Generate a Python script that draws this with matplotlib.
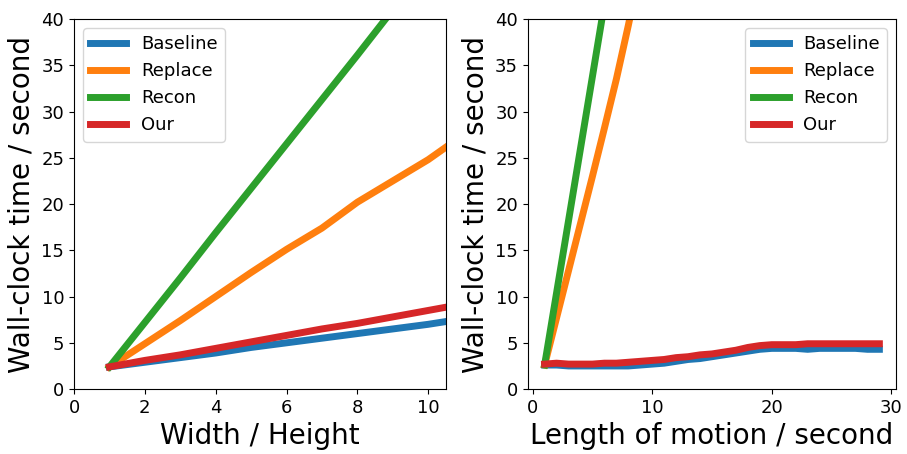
import matplotlib
matplotlib.use("Agg")
import matplotlib.pyplot as plt

# left panel: time vs. resolution ratio
ratio_x = [1, 2, 3, 4, 5, 6, 7, 8, 9, 10, 11]
ratio_baseline = [2.4, 2.9, 3.4, 3.9, 4.5, 5.0, 5.5, 6.0, 6.5, 7.0, 7.6]
ratio_replace = [2.4, 4.9, 7.4, 10.0, 12.6, 15.1, 17.4, 20.2, 22.5, 24.8, 27.5]
ratio_recon = [2.4, 7.2, 12.0, 16.9, 21.7, 26.5, 31.3, 36.1, 41.0, 45.8, 50.6]
ratio_our = [2.4, 3.1, 3.7, 4.4, 5.1, 5.8, 6.5, 7.1, 7.8, 8.5, 9.2]

# right panel: time vs. motion length
motion_x = list(range(1, 30))
motion_baseline = [2.6, 2.6, 2.5, 2.5, 2.5, 2.5, 2.5, 2.5, 2.6, 2.7, 2.8, 3.0, 3.2, 3.3, 3.5, 3.7, 3.9, 4.1, 4.3, 4.4, 4.4, 4.4, 4.3, 4.4, 4.4, 4.4, 4.4, 4.3, 4.3]
motion_our = [2.7, 2.8, 2.7, 2.7, 2.7, 2.8, 2.8, 2.9, 3.0, 3.1, 3.2, 3.4, 3.5, 3.7, 3.8, 4.0, 4.2, 4.5, 4.7, 4.8, 4.8, 4.8, 4.9, 4.9, 4.9, 4.9, 4.9, 4.9, 4.9]
replace_x = [1, 2, 3, 4, 5, 6, 7, 8, 9]
motion_replace = [2.6, 7.7, 12.8, 17.9, 23.0, 28.2, 33.5, 39.3, 45.5]
recon_x = [1, 2, 3, 4, 5, 6, 7]
motion_recon = [2.6, 10.4, 18.2, 26.0, 33.8, 41.6, 49.4]

labels = ["Baseline", "Replace", "Recon", "Our"]
lw = 5

fig = plt.figure(figsize=(9.07, 4.54), dpi=100)
ax1 = fig.add_axes([0.0816, 0.143, 0.410, 0.815])
ax2 = fig.add_axes([0.582, 0.143, 0.406, 0.815])

ax1.plot(ratio_x, ratio_baseline, lw=lw, label=labels[0])
ax1.plot(ratio_x, ratio_replace, lw=lw, label=labels[1])
ax1.plot(ratio_x, ratio_recon, lw=lw, label=labels[2])
ax1.plot(ratio_x, ratio_our, lw=lw, label=labels[3])
ax1.set_xlim(0, 10.5)
ax1.set_ylim(0, 40)
ax1.set_xlabel("Width / Height", fontsize=20)
ax1.set_ylabel("Wall-clock time / second", fontsize=20)
ax1.legend(loc="upper left", fontsize=13)

ax2.plot(motion_x, motion_baseline, lw=lw, label=labels[0])
ax2.plot(replace_x, motion_replace, lw=lw, label=labels[1])
ax2.plot(recon_x, motion_recon, lw=lw, label=labels[2])
ax2.plot(motion_x, motion_our, lw=lw, label=labels[3])
ax2.set_xlim(-0.4, 30.4)
ax2.set_ylim(0, 40)
ax2.set_xlabel("Length of motion / second", fontsize=20)
ax2.set_ylabel("Wall-clock time / second", fontsize=20)
ax2.legend(loc="upper right", fontsize=13)

for ax in (ax1, ax2):
    ax.tick_params(labelsize=13)

fig.savefig("out.png", dpi=100)
